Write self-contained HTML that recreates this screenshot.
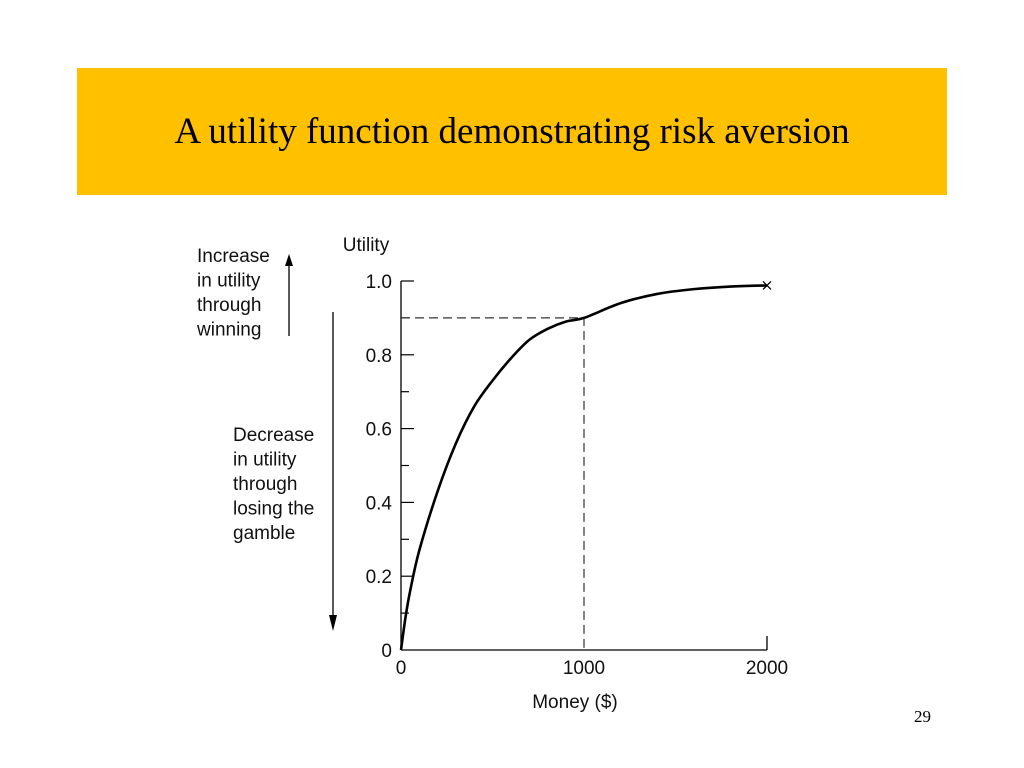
<!DOCTYPE html>
<html><head><meta charset="utf-8"><style>
body{margin:0;background:#fff;width:1024px;height:768px;overflow:hidden;position:relative;font-family:"Liberation Sans",sans-serif}
#title{position:absolute;left:77px;top:68px;width:870px;height:127px;background:#FFC000;display:flex;align-items:center;justify-content:center;font-family:"Liberation Serif",serif;font-size:37px;color:#000}
#pg{position:absolute;left:914px;top:707px;font-family:"Liberation Serif",serif;font-size:17px}
svg{position:absolute;left:0;top:0}
svg text{font-family:"Liberation Sans",sans-serif;font-size:19px;fill:#111}
</style></head><body>
<div id="title">A utility function demonstrating risk aversion</div>
<div id="pg">29</div>
<svg id="chart" width="1024" height="768"></svg>
<script>
const money=[0,25,50,100,200,300,400,500,600,700,800,900,1000,1200,1400,1600,1800,2000];
const utility=[0,0.09,0.16,0.27,0.43,0.56,0.66,0.73,0.79,0.84,0.87,0.89,0.9,0.94,0.965,0.978,0.985,0.988];
const yTicks=[0,0.2,0.4,0.6,0.8,1.0];
const yTickLabels=["0","0.2","0.4","0.6","0.8","1.0"];
const xTicks=[0,1000,2000];
const xTickLabels=["0","1000","2000"];
const refX=1000, refY=0.9;
const svg=document.getElementById('chart');
const NS='http://www.w3.org/2000/svg';
const X=v=>401+v*0.183, Y=v=>650-v*369;
function mk(t,a,txt){const e=document.createElementNS(NS,t);for(const k in a)e.setAttribute(k,a[k]);if(txt!==undefined)e.textContent=txt;svg.appendChild(e);return e;}
let e;
e=mk('line',{x1:X(0),y1:Y(1),x2:X(0),y2:Y(0),stroke:'#000','stroke-width':1.3});

e=mk('line',{x1:X(0),y1:Y(0),x2:X(2000),y2:Y(0),stroke:'#000','stroke-width':1.3});

e=mk('line',{x1:X(2000),y1:Y(0),x2:X(2000),y2:Y(0)-14,stroke:'#000','stroke-width':1.3});

for(let i=1;i<=10;i++){const v=i/10;const big=(i%2===0);
 e=mk('line',{x1:X(0),y1:Y(v),x2:X(0)+(big?13:8),y2:Y(v),stroke:'#000','stroke-width':1.2});
 }
yTicks.forEach((v,i)=>{e=mk('text',{x:392,y:Y(v)+7,'text-anchor':'end'},yTickLabels[i]);
 });
xTicks.forEach((v,i)=>{e=mk('text',{x:X(v),y:674,'text-anchor':'middle'},xTickLabels[i]);
 });
e=mk('text',{x:366,y:251,'text-anchor':'middle'},'Utility');

e=mk('text',{x:575,y:708,'text-anchor':'middle'},'Money ($)');

// dashed reference
e=mk('polyline',{points:`${X(0)},${Y(refY)} ${X(refX)},${Y(refY)} ${X(refX)},${Y(0)}`,fill:'none',stroke:'#333','stroke-width':1.2,'stroke-dasharray':'9,5'});

// curve (catmull-rom)
const P=money.map((m,i)=>[X(m),Y(utility[i])]);
let d=`M${P[0][0]},${P[0][1]}`;
for(let i=0;i<P.length-1;i++){const p0=P[Math.max(0,i-1)],p1=P[i],p2=P[i+1],p3=P[Math.min(P.length-1,i+2)];
 d+=` C${p1[0]+(p2[0]-p0[0])/6},${p1[1]+(p2[1]-p0[1])/6} ${p2[0]-(p3[0]-p1[0])/6},${p2[1]-(p3[1]-p1[1])/6} ${p2[0]},${p2[1]}`;}
e=mk('path',{d:d,fill:'none',stroke:'#000','stroke-width':2.6});

const ex=P[P.length-1];
e=mk('path',{d:`M${ex[0]-4},${ex[1]-4}L${ex[0]+4},${ex[1]+4}M${ex[0]-4},${ex[1]+4}L${ex[0]+4},${ex[1]-4}`,stroke:'#000','stroke-width':1.3});

// annotations
const inc=['Increase','in utility','through','winning'];
inc.forEach((t,i)=>{e=mk('text',{x:197,y:262+i*24.5},t);});
const dec=['Decrease','in utility','through','losing the','gamble'];
dec.forEach((t,i)=>{e=mk('text',{x:233,y:441+i*24.5},t);});
e=mk('line',{x1:289,y1:336,x2:289,y2:262,stroke:'#000','stroke-width':1.3});

e=mk('path',{d:'M289,254 L285,266 L293,266Z',fill:'#000'});

e=mk('line',{x1:333,y1:312,x2:333,y2:620,stroke:'#000','stroke-width':1.3});

e=mk('path',{d:'M333,631 L329,615 L337,615Z',fill:'#000'});

</script>
</body></html>
